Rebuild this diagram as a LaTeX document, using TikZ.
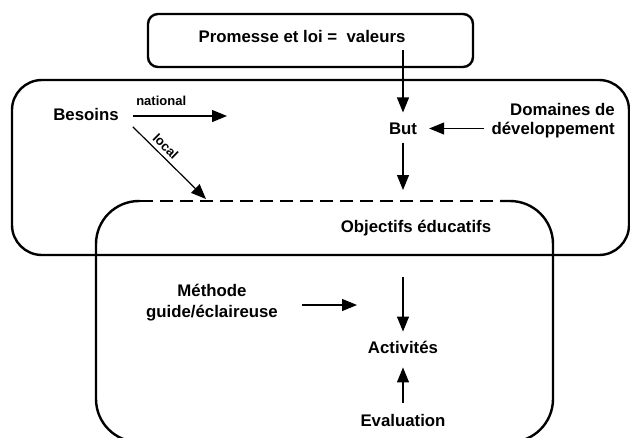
\documentclass[tikz,border=0pt]{standalone}
\usepackage{fontspec}
\setmainfont{Liberation Sans}
\usetikzlibrary{positioning,arrows.meta}

\begin{document}
\begin{tikzpicture}[
        x=1pt, y=-1pt,
        txt/.style={
            font=\fontsize{16.8}{19}\selectfont\bfseries,
            inner sep=2pt,
            align=center
        },
        small/.style={
            font=\fontsize{13}{15}\selectfont\bfseries,
            inner sep=2pt
        },
        frame/.style={
            draw,
            line width=2.4pt
        },
        arrow/.style={
            -{Triangle[length=15pt,width=12pt]},
            line width=1.2pt
        }
    ]

    \clip (0,0) rectangle (630,437);

    % Frames
    \node[frame, rounded corners=10pt, inner sep=0pt, minimum width=325pt, minimum height=53pt] (topbox) at (310.5,40.5) {};
    \node[frame, rounded corners=30pt, inner sep=0pt, minimum width=617pt, minimum height=175pt] (upperbox) at (320.5,167.5) {};
    \draw[frame, rounded corners=43pt] (140,201) -- (96,201) -- (96,442) -- (553,442) -- (553,201) -- (500,201);
    \draw[frame, dash pattern=on 13pt off 7pt] (140,201) -- (500,201);

    % Texts
    \node[txt] (valeurs) at (302,36) {Promesse et loi = \ valeurs};
    \node[txt] (besoins) at (86,114.5) {Besoins};
    \node[txt] (but) at (403,128.5) {But};
    \node[txt, align=right, anchor=east] (domaines) at (617,121) {Domaines de\\développement};
    \node[txt] (objectifs) at (416,228) {Objectifs éducatifs};
    \node[txt] (methode) at (212,303) {Méthode\\[2pt]guide/éclaireuse};
    \node[txt] (activites) at (403,347) {Activités};
    \node[txt] (evaluation) at (403,420) {Evaluation};

    % Free ends
    \coordinate (natend) at (227,116);
    \coordinate (localend) at (206,199);
    \coordinate (butend) at (403,190);
    \coordinate (objstart) at (403,277);
    \coordinate (methend) at (357,305);

    % Connections
    \draw[arrow, shorten <=6pt, shorten >=8pt] (valeurs.south -| but) -- (but);
    \draw[arrow, shorten <=12pt] (besoins.east |- natend) -- node[small, above=8pt, pos=0.38] {national} (natend);
    \draw[arrow] ([xshift=12pt,yshift=-4pt]besoins.south east) -- node[small, sloped, above=2pt, pos=0.36] {local} (localend);
    \draw[arrow, shorten <=5pt, shorten >=10pt] (domaines.west |- but) -- (but);
    \draw[arrow, shorten <=6pt] (but) -- (butend);
    \draw[arrow, shorten >=7pt] (objstart) -- (activites);
    \draw[arrow, shorten <=22pt] (methode.east |- methend) -- (methend);
    \draw[arrow, shorten <=9pt, shorten >=12pt] (evaluation) -- (activites);

\end{tikzpicture}
\end{document}
